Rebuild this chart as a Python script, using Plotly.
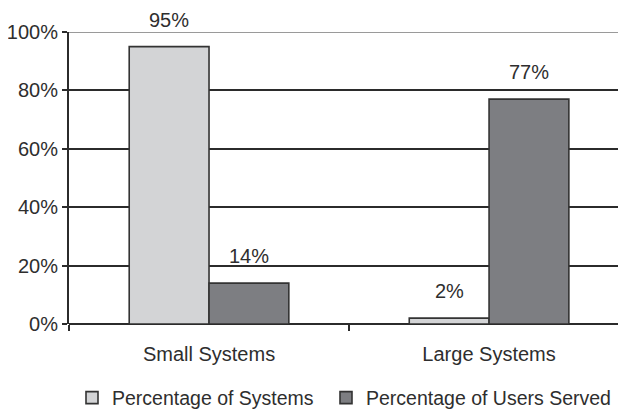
import plotly.graph_objects as go

categories = ["Small Systems", "Large Systems"]
series_names = ["Percentage of Systems", "Percentage of Users Served"]
pct_systems = [95, 2]
pct_users = [14, 77]
y_ticks = [0, 20, 40, 60, 80, 100]
y_tick_labels = ["0%", "20%", "40%", "60%", "80%", "100%"]

colors = ["#d3d4d6", "#7d7e82"]
FONT = "Liberation Sans, Arial, sans-serif"
TXT = "#2e2e2e"
FS = 20
BARGAP = 0.43

W, H = 618, 408  # page body has an 8px margin; figure fills the rest

fig = go.Figure()
legend_ids = ["legend", "legend2"]
for name, vals, col, lg in zip(series_names, [pct_systems, pct_users], colors, legend_ids):
    fig.add_trace(go.Bar(
        x=categories, y=vals, name=name, legend=lg,
        marker=dict(color=col, line=dict(color="#333333", width=1.6)),
    ))

# data labels
half = (1 - BARGAP) / 2
for j, vals in enumerate([pct_systems, pct_users]):
    for i, v in enumerate(vals):
        fig.add_annotation(
            x=i + (j - 0.5) * half, y=v, text=f"{v}%", showarrow=False,
            yanchor="bottom", yshift=14,
            font=dict(family=FONT, size=FS, color=TXT),
        )

# top (100%) line in gray
fig.add_shape(type="line", xref="paper", x0=0, x1=1, yref="y", y0=100, y1=100,
              line=dict(color="#9a9a9a", width=2), layer="above")

leg_common = dict(orientation="h", xref="container", yref="container",
                  xanchor="left", yanchor="middle", y=18 / H,
                  font=dict(family=FONT, size=19.5, color=TXT),
                  bgcolor="rgba(0,0,0,0)")

fig.update_layout(
    width=W, height=H,
    margin=dict(l=61, r=0, t=24, b=92, autoexpand=False),
    paper_bgcolor="white", plot_bgcolor="white",
    barmode="group", bargap=BARGAP, bargroupgap=0,
    font=dict(family=FONT, size=FS, color=TXT),
    showlegend=True,
    legend=dict(x=64 / W, **leg_common),
    legend2=dict(x=318 / W, **leg_common),
    xaxis=dict(
        type="category", range=[-0.5, 1.489], automargin=False,
        showline=False, showgrid=False, zeroline=False,
        ticks="outside", tickson="boundaries", ticklen=6, tickwidth=2,
        tickcolor="#2b2b2b", ticklabelstandoff=16,
        tickfont=dict(family=FONT, size=FS, color=TXT),
    ),
    yaxis=dict(
        range=[0, 100], tickvals=y_ticks, ticktext=y_tick_labels, automargin=False,
        showgrid=True, gridcolor="#2b2b2b", gridwidth=1.8,
        zeroline=True, zerolinecolor="#2b2b2b", zerolinewidth=2,
        showline=True, linecolor="#2b2b2b", linewidth=2,
        ticks="outside", ticklen=5, tickwidth=2, tickcolor="#2b2b2b",
        ticklabelstandoff=0,
        tickfont=dict(family=FONT, size=FS, color=TXT),
    ),
)

fig.write_html("out.html")
